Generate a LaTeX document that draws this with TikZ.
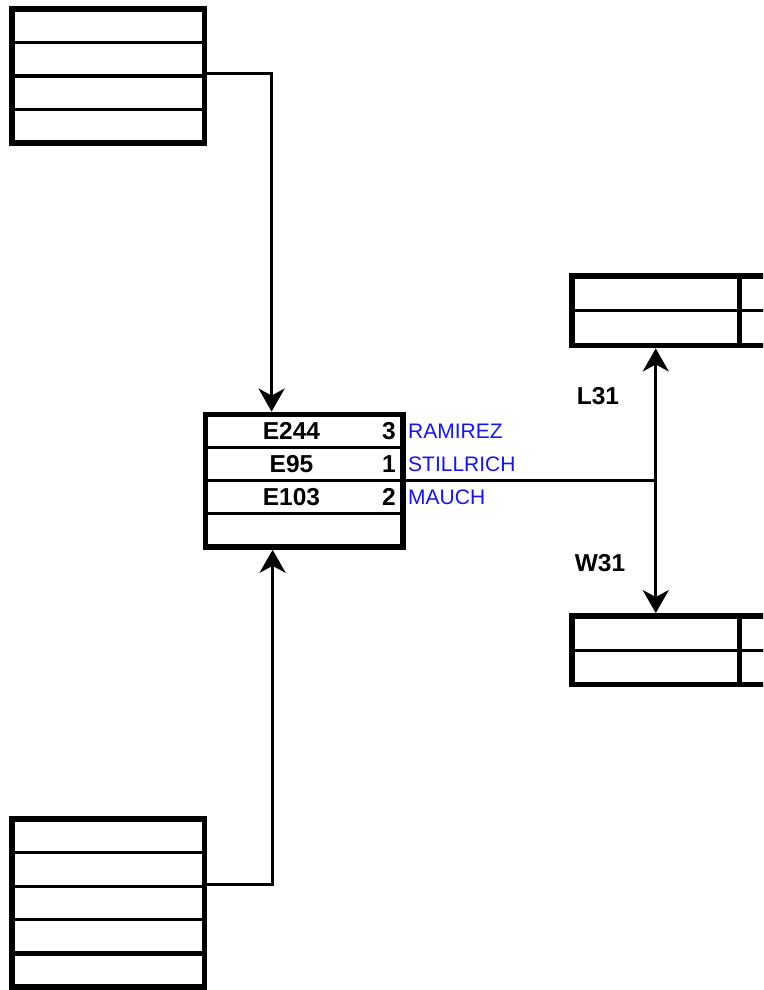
\documentclass[tikz,border=0pt]{standalone}
\usepackage{xcolor}
\usepackage{fontspec}
\setmainfont{Liberation Sans}
\usepackage{tikz}
\usetikzlibrary{positioning, fit, arrows.meta}
\definecolor{nameblue}{RGB}{20,20,245}

\begin{document}
\begin{tikzpicture}[x=1pt, y=-1pt,
    cell/.style={draw, line width=3.3pt, outer sep=0pt, inner sep=0pt},
    frame/.style={draw, line width=5.8pt, inner sep=0pt},
    idtext/.style={font=\fontsize{24.5}{24.5}\selectfont\bfseries, inner sep=0pt},
    who/.style={font=\fontsize{21}{21}\selectfont, text=nameblue, inner sep=0pt, anchor=west},
    hd/.tip={Stealth[length=23pt, width=26pt, inset=7pt]},
    conn/.style={line width=3.3pt, -hd}]
    \useasboundingbox (0, 0) rectangle (763, 990);
    \clip (0, 0) rectangle (763, 990);

    % upper left table
    \node[cell, minimum width=192.5pt, minimum height=33.5pt] at (108.25, 25.75) (a1) {};
    \node[cell, minimum width=192.5pt, minimum height=33.5pt, below=0pt of a1] (a2) {};
    \node[cell, minimum width=192.5pt, minimum height=33.5pt, below=0pt of a2] (a3) {};
    \node[cell, minimum width=192.5pt, minimum height=33.5pt, below=0pt of a3] (a4) {};
    \node[frame, fit=(a1)(a4)] (A) {};

    % middle table
    \node[cell, minimum width=197.5pt, minimum height=33.1pt] at (304.25, 431.05) (m1) {};
    \node[cell, minimum width=197.5pt, minimum height=33.1pt, below=0pt of m1] (m2) {};
    \node[cell, minimum width=197.5pt, minimum height=33.1pt, below=0pt of m2] (m3) {};
    \node[cell, minimum width=197.5pt, minimum height=33.1pt, below=0pt of m3] (m4) {};
    \node[frame, fit=(m1)(m4)] (M) {};

    \node[idtext] at ([xshift=86pt]m1.west) (e1) {E244};
    \node[idtext] at ([xshift=86pt]m2.west) (e2) {E95};
    \node[idtext] at ([xshift=86pt]m3.west) (e3) {E103};
    \node[idtext, anchor=east] at ([xshift=-7pt]m1.east) (n1) {3};
    \node[idtext, anchor=east] at ([xshift=-7pt]m2.east) (n2) {1};
    \node[idtext, anchor=east] at ([xshift=-7pt]m3.east) (n3) {2};
    \node[who] at ([xshift=5pt]m1.east) (w1) {RAMIREZ};
    \node[who] at ([xshift=5pt]m2.east) (w2) {STILLRICH};
    \node[who] at ([xshift=5pt]m3.east) (w3) {MAUCH};

    % lower left table
    \node[cell, minimum width=192.5pt, minimum height=33.6pt] at (108.25, 835.8) (b1) {};
    \node[cell, minimum width=192.5pt, minimum height=33.6pt, below=0pt of b1] (b2) {};
    \node[cell, minimum width=192.5pt, minimum height=33.6pt, below=0pt of b2] (b3) {};
    \node[cell, minimum width=192.5pt, minimum height=33.6pt, below=0pt of b3] (b4) {};
    \node[cell, minimum width=192.5pt, minimum height=33.6pt, below=0pt of b4] (b5) {};
    \node[frame, fit=(b1)(b4)] (B) {};
    \node[frame, fit=(b5)] (Bx) {};

    % right tables
    \node[cell, minimum width=167.5pt, minimum height=34.75pt] at (655.75, 293.4) (ra1) {};
    \node[cell, minimum width=167.5pt, minimum height=34.75pt, below=0pt of ra1] (ra2) {};
    \node[cell, minimum width=60pt, minimum height=34.75pt, right=0pt of ra1] (rb1) {};
    \node[cell, minimum width=60pt, minimum height=34.75pt, right=0pt of ra2] (rb2) {};
    \node[frame, fit=(ra1)(ra2)] (Ra) {};
    \node[frame, fit=(rb1)(rb2)] (Rax) {};

    \node[cell, minimum width=167.5pt, minimum height=34.25pt] at (655.75, 633.1) (rc1) {};
    \node[cell, minimum width=167.5pt, minimum height=34.25pt, below=0pt of rc1] (rc2) {};
    \node[cell, minimum width=60pt, minimum height=34.25pt, right=0pt of rc1] (rd1) {};
    \node[cell, minimum width=60pt, minimum height=34.25pt, right=0pt of rc2] (rd2) {};
    \node[frame, fit=(rc1)(rc2)] (Rb) {};
    \node[frame, fit=(rd1)(rd2)] (Rbx) {};

    \node[idtext] at (598, 396) (L31) {L31};
    \node[idtext] at (600, 563) (W31) {W31};

    \draw[conn] ([yshift=2.5pt]A.east) -| ([xshift=69pt]M.north west);
    \draw[conn] ([yshift=2pt]b2.south east) -| ([xshift=70pt]M.south west);
    \draw[line width=3.3pt] (m2.south east) -- (m2.south east -| Ra.south);
    \draw[line width=3.3pt, hd-hd] (Ra.south) -- (Rb.north);
\end{tikzpicture}
\end{document}
